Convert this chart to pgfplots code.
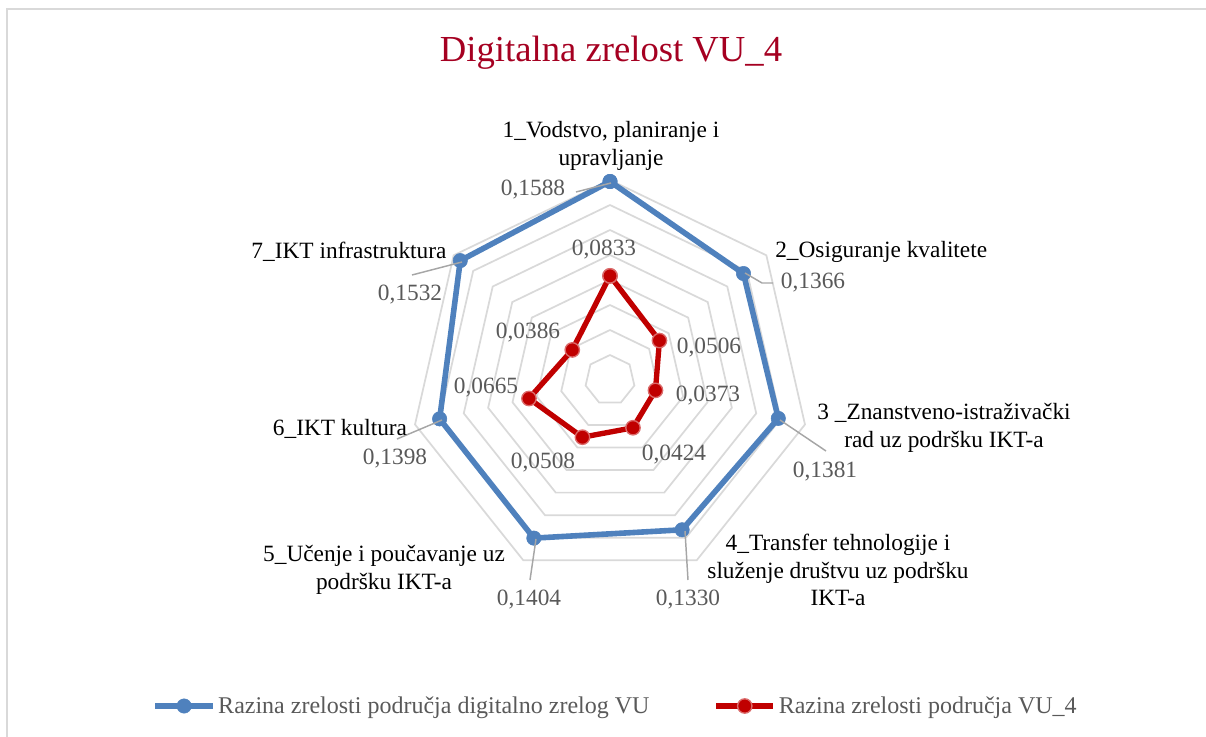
\documentclass[border=0pt]{standalone}
\usepackage{pgfplots}
\pgfplotsset{compat=1.18}
\usepgfplotslibrary{polar}
\usepackage{fontspec}
\setmainfont{Liberation Serif}

\definecolor{blueline}{HTML}{4F81BD}
\definecolor{redline}{HTML}{C00000}
\definecolor{redrim}{HTML}{DB6C6C}
\definecolor{gridc}{HTML}{D9D9D9}
\definecolor{labc}{HTML}{595959}
\definecolor{leadc}{HTML}{A6A6A6}
\definecolor{titlec}{HTML}{A50021}

\newcommand\lab{\fontsize{17.5}{20.5}\selectfont}

\begin{document}
\begin{tikzpicture}
% pixel grid of the reference: 1 px = 0.75pt, y downwards
\begin{scope}[x=0.75pt,y=-0.75pt]
\useasboundingbox (0,0) rectangle (1206,737);
\draw[gridc, line width=1.5pt] (6.5,760) -- (6.5,9.5) -- (1230,9.5);
\node[titlec, font=\fontsize{27.5}{33}\selectfont, inner sep=0pt] at (611,53) {Digitalna zrelost VU\_4};
\end{scope}

\begin{polaraxis}[
  at={(457.5pt,-285pt)}, anchor=center,
  width=300pt, height=300pt, scale only axis,
  ymin=0, ymax=0.16,
  hide axis, clip=false,
  xtick=\empty, ytick=\empty,
  legend columns=2,
  legend style={at={(0.515,-0.315)}, anchor=center, draw=none, fill=none,
    font=\fontsize{18}{21}\selectfont, text=labc,
    /tikz/every even column/.append style={column sep=46pt}},
  legend image code/.code={\draw[mark repeat=2,mark phase=2,#1]
    plot coordinates {(0pt,0pt) (21.5pt,0pt) (43pt,0pt)};},
]
% heptagon rings
\pgfplotsinvokeforeach{0.02,0.04,0.06,0.08,0.10,0.12,0.14,0.16}{
  \addplot[gridc, line width=1.3pt, forget plot] coordinates {
    (90,#1) (38.571,#1) (-12.857,#1) (-64.286,#1)
    (-115.714,#1) (-167.143,#1) (141.429,#1) (90,#1)};
}
\addplot[blueline, line width=4.2pt, mark=*, mark size=5.4pt,
  mark options={fill=blueline, draw=blueline, line width=0.4pt}] coordinates {
  (90,0.1588) (38.571,0.1366) (-12.857,0.1381) (-64.286,0.1330)
  (-115.714,0.1404) (-167.143,0.1398) (141.429,0.1532) (90,0.1588)};
\addlegendentry{Razina zrelosti područja digitalno zrelog VU}
\addplot[redline, line width=4pt, mark=*, mark size=5.4pt,
  mark options={fill=redline, draw=redrim, line width=1pt}] coordinates {
  (90,0.0833) (38.571,0.0506) (-12.857,0.0373) (-64.286,0.0424)
  (-115.714,0.0508) (-167.143,0.0665) (141.429,0.0386) (90,0.0833)};
\addlegendentry{Razina zrelosti područja VU\_4}
\end{polaraxis}

\begin{scope}[x=0.75pt,y=-0.75pt]
% leader lines of the outer labels
\begin{scope}[leadc, line width=1.1pt]
\draw (611,183) -- (576,192);
\draw (745,273) -- (762,283) -- (773,283);
\draw (780,420) -- (826,451);
\draw (685,531) -- (688,580);
\draw (536,539) -- (530,580);
\draw (442,420) -- (397,439);
\draw (462,262) -- (412,275);
\end{scope}
% values
\begin{scope}[labc, font=\lab, inner sep=0pt]
\node at (533,190) {0,1588};
\node at (813,283) {0,1366};
\node at (825,472) {0,1381};
\node at (688,600) {0,1330};
\node at (529,600) {0,1404};
\node at (395,459) {0,1398};
\node at (410,295) {0,1532};
\node at (604,250) {0,0833};
\node at (709,348) {0,0506};
\node at (708,396) {0,0373};
\node at (674,455) {0,0424};
\node at (543,463) {0,0508};
\node at (486,388) {0,0665};
\node at (528,333) {0,0386};
\end{scope}
% categories
\begin{scope}[black, font=\lab, inner sep=0pt, align=center]
\node at (611,146) {1\_Vodstvo, planiranje i\\upravljanje};
\node[anchor=west] at (775,252) {2\_Osiguranje kvalitete};
\node at (944,428) {3 \_Znanstveno-istraživački\\rad uz podršku IKT-a};
\node at (838,570) {4\_Transfer tehnologije i\\služenje društvu uz podršku\\IKT-a};
\node at (384,570) {5\_Učenje i poučavanje uz\\podršku IKT-a};
\node at (340,429) {6\_IKT kultura};
\node at (349,252) {7\_IKT infrastruktura};
\end{scope}
\end{scope}
\end{tikzpicture}
\end{document}
